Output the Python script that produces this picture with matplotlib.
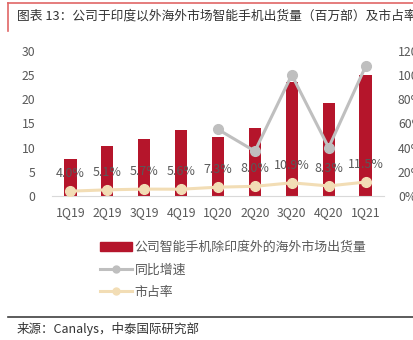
import matplotlib.pyplot as plt
from matplotlib.lines import Line2D
import numpy as np

plt.rcParams['font.family'] = ['Noto Sans CJK SC', 'DejaVu Sans']

quarters = ["1Q19", "2Q19", "3Q19", "4Q19", "1Q20", "2Q20", "3Q20", "4Q20", "1Q21"]
shipments = [7.7, 10.3, 11.7, 13.6, 12.1, 14.1, 23.5, 19.2, 25.0]  # 百万部
yoy = [None, None, None, None, 55, 37, 100, 40, 107]  # %
share = [4.0, 5.1, 5.7, 5.6, 7.3, 8.0, 10.9, 8.3, 11.5]  # %

red = "#B5152B"
grey = "#BFBFBF"
tan = "#F2DDB5"
txt = "#595959"

fig = plt.figure(figsize=(4.14, 3.40), dpi=100)
ax = fig.add_axes([52 / 414, 1 - 196 / 340, 332 / 414, (196 - 50.7) / 340])
ax2 = ax.twinx()

x = np.arange(len(quarters))
ax.bar(x, shipments, width=0.33, color=red, zorder=2)

xi = [i for i, v in enumerate(yoy) if v is not None]
ax2.plot(xi, [yoy[i] for i in xi], color=grey, lw=2.2, marker="o", ms=7, zorder=3)
ax2.plot(x, share, color=tan, lw=2.2, marker="o", ms=7, zorder=4)
for i, v in enumerate(share):
    ax2.annotate(f"{v:.1f}%", (i, v), xytext=(0, 8), textcoords="offset points",
                 ha="center", va="bottom", fontsize=9, color=txt, zorder=5)

ax.set_xlim(-0.5, len(quarters) - 0.5)
ax.set_ylim(0, 30)
ax.set_yticks(range(0, 31, 5))
ax2.set_ylim(0, 120)
ax2.set_yticks(range(0, 121, 20))
ax2.set_yticklabels([f"{t}%" for t in range(0, 121, 20)])
ax.set_xticks(x)
ax.set_xticklabels(quarters)

for a in (ax, ax2):
    for s in ("top", "left", "right"):
        a.spines[s].set_visible(False)
    a.tick_params(length=0, labelsize=8.8, labelcolor=txt)
ax.spines["bottom"].set_color("#D9D9D9")
ax2.spines["bottom"].set_visible(False)
ax.tick_params(axis="y", pad=12)
ax2.tick_params(axis="y", pad=10)
ax.tick_params(axis="x", pad=7)

handles = [
    plt.Rectangle((0, 0), 1, 1, color=red),
    Line2D([], [], color=grey, lw=2.2, marker="o", ms=5),
    Line2D([], [], color=tan, lw=2.2, marker="o", ms=5),
]
labels = ["公司智能手机除印度外的海外市场出货量", "同比增速", "市占率"]
fig.legend(handles, labels, loc="upper left", bbox_to_anchor=(88 / 414, 1 - 229 / 340),
           frameon=False, fontsize=9.3, labelcolor=txt, handlelength=2.5,
           handletextpad=0.2, labelspacing=0.75)

# title box
fig.add_artist(Line2D([8 / 414, 1], [1 - 3 / 340] * 2, color="#E06666", lw=1.2))
fig.add_artist(Line2D([8 / 414] * 2, [1 - 3 / 340, 1 - 31 / 340], color="#E06666", lw=1.2))
fig.text(17 / 414, 1 - 16 / 340, "图表 13：公司于印度以外海外市场智能手机出货量（百万部）及市占率",
         fontsize=9.2, color="#333333", va="center", ha="left")

fig.add_artist(Line2D([8 / 414, 1], [1 - 317 / 340] * 2, color="#404040", lw=1.2))
fig.text(17 / 414, 1 - 329 / 340, "来源：Canalys，中泰国际研究部", fontsize=9,
         color="#333333", va="center", ha="left")

fig.savefig("out.png", dpi=100)
